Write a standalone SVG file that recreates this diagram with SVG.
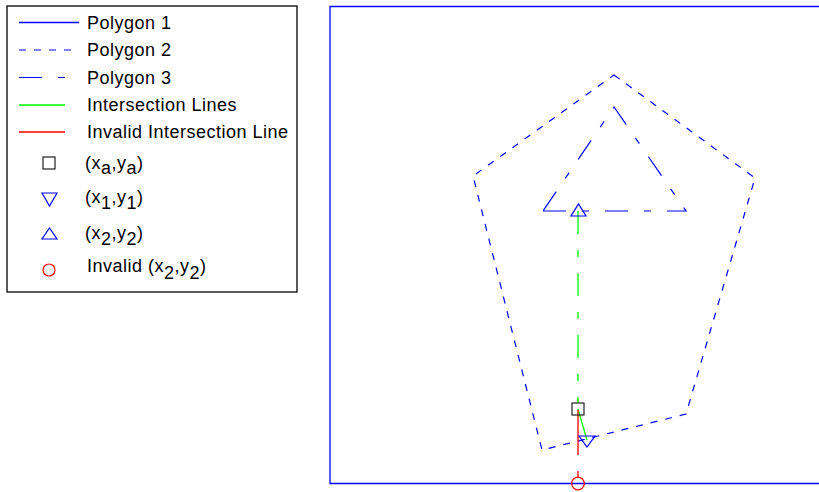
<svg xmlns="http://www.w3.org/2000/svg" width="819" height="492" viewBox="0 0 819 492">
<style>
text{font-family:"Liberation Sans",Arial,sans-serif;font-size:18px;letter-spacing:0.5px;fill:#000}
.p1{fill:none;stroke:#0000ff;stroke-width:1.3}
.p2{fill:none;stroke:#0000ff;stroke-width:1.2;stroke-dasharray:7 8}
.p3{fill:none;stroke:#0000ff;stroke-width:1.2;stroke-dasharray:23 16 7 16}
.gr{fill:none;stroke:#00ff00;stroke-width:1.3}
.grd{fill:none;stroke:#00ff00;stroke-width:1.3;stroke-dasharray:23 16 7 16}
.rd{fill:none;stroke:#ff0000;stroke-width:1.3}
.sq{fill:none;stroke:#222;stroke-width:1.2}
.tri{fill:none;stroke:#0000ff;stroke-width:1.2}
.cir{fill:none;stroke:#ff0000;stroke-width:1.2}
</style>
<g id="legend">
<rect x="7" y="6" width="290" height="286" fill="#fff" stroke="#000" stroke-width="1.3"/>
<line class="p1" x1="19" y1="22.5" x2="79" y2="22.5"/>
<text x="87" y="29">Polygon 1</text>
<line class="p2" x1="19" y1="50" x2="79" y2="50"/>
<text x="87" y="56">Polygon 2</text>
<line class="p3" x1="19" y1="77.5" x2="79" y2="77.5"/>
<text x="87" y="83.5">Polygon 3</text>
<line class="gr" x1="19" y1="105" x2="65" y2="105"/>
<text x="87" y="111">Intersection Lines</text>
<line class="rd" x1="19" y1="132" x2="65" y2="132"/>
<text x="87" y="138">Invalid Intersection Line</text>
<rect class="sq" x="43" y="157" width="12" height="12"/>
<text x="85" y="169">(x<tspan dy="5">a</tspan><tspan dy="-5">,y</tspan><tspan dy="5">a</tspan><tspan dy="-5">)</tspan></text>
<polygon class="tri" points="42,193 57,193 49.5,206"/>
<text x="85" y="203">(x<tspan dy="6">1</tspan><tspan dy="-6">,y</tspan><tspan dy="6">1</tspan><tspan dy="-6">)</tspan></text>
<polygon class="tri" points="42,239 57,239 49.5,228"/>
<text x="85" y="239">(x<tspan dy="6">2</tspan><tspan dy="-6">,y</tspan><tspan dy="6">2</tspan><tspan dy="-6">)</tspan></text>
<circle class="cir" cx="49" cy="270" r="6"/>
<text x="87" y="272">Invalid (x<tspan dy="7">2</tspan><tspan dy="-7">,y</tspan><tspan dy="7">2</tspan><tspan dy="-7">)</tspan></text>
</g>
<g id="polygon1">
<path class="p1" d="M830,6.5 H330 V483.5 H830"/>
</g>
<g id="polygon2">
<polygon class="p2" points="614,75 755,178 686,414 542,450 473,176"/>
</g>
<g id="polygon3">
<path class="p3" d="M543,211 L686,211 L614,107 Z"/>
</g>
<g id="connectors">
<line class="grd" x1="578" y1="211" x2="578" y2="403"/>
<line class="gr" x1="578" y1="409" x2="587" y2="440"/>
<line class="rd" x1="578" y1="410" x2="578" y2="455"/>
<line class="rd" x1="578" y1="471" x2="578" y2="478"/>
</g>
<g id="markers">
<rect class="sq" x="572" y="403" width="12" height="12"/>
<polygon class="tri" points="579,436 595,436 587,447"/>
<polygon class="tri" points="571,216 586,216 578.5,204"/>
<circle class="cir" cx="578" cy="483.5" r="6.3"/>
</g>
</svg>
